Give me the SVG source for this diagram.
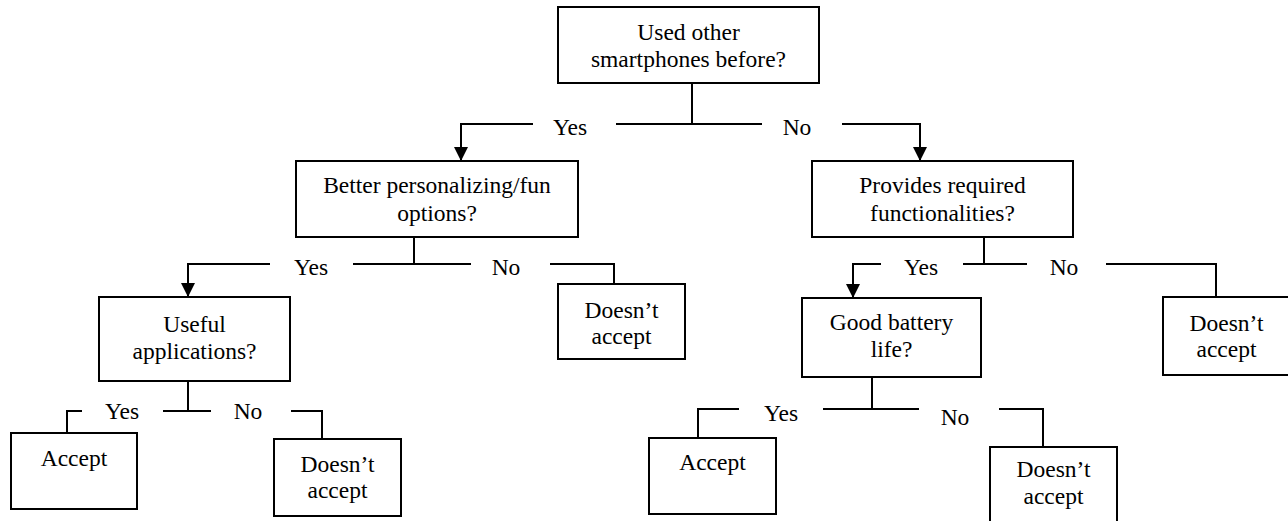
<svg xmlns="http://www.w3.org/2000/svg" width="1288" height="521" viewBox="0 0 1288 521">
  <style>
    .box { fill: #ffffff; stroke: #000000; stroke-width: 2; }
    .wire { fill: none; stroke: #000000; stroke-width: 2; }
    .arrow { marker-end: url(#arrow); }
    text { font-family: "Liberation Serif", "Times New Roman", serif; font-size: 23.5px; fill: #000000; text-anchor: middle; }
  </style>
  <defs>
    <!-- filled triangle, tip at the end of the path -->
    <marker id="arrow" viewBox="0 0 14 14" refX="14" refY="7" markerWidth="14" markerHeight="14" markerUnits="userSpaceOnUse" orient="auto">
      <path d="M0,0 L14,7 L0,14 Z" fill="#000000"/>
    </marker>
  </defs>
  <rect width="1288" height="521" fill="#ffffff"/>

  <g id="connectors">
    <!-- from the root question -->
    <path class="wire" d="M692,83 V124 M616,124 H762"/>
    <path class="wire arrow" d="M533,124 H461 V161"/>
    <path class="wire arrow" d="M842,124 H920 V161"/>
    <!-- from the personalizing question -->
    <path class="wire" d="M414,237 V264 M353,264 H471"/>
    <path class="wire arrow" d="M270,264 H188 V297"/>
    <path class="wire" d="M550,264 H614 V284"/>
    <!-- from the functionality question -->
    <path class="wire" d="M984,237 V264 M963,264 H1027"/>
    <path class="wire arrow" d="M881,264 H853 V298"/>
    <path class="wire" d="M1106,264 H1216 V297"/>
    <!-- from the applications question -->
    <path class="wire" d="M188,381 V411 M163,411 H211"/>
    <path class="wire" d="M82,411 H67 V433"/>
    <path class="wire" d="M291,411 H322 V439"/>
    <!-- from the battery question -->
    <path class="wire" d="M872,377 V409 M823,409 H919"/>
    <path class="wire" d="M739,409 H698 V438"/>
    <path class="wire" d="M999,409 H1043 V447"/>
    <!-- branch labels -->
    <text x="570" y="135">Yes</text>
    <text x="797" y="135">No</text>
    <text x="311" y="275">Yes</text>
    <text x="506" y="275">No</text>
    <text x="921" y="275">Yes</text>
    <text x="1064" y="275">No</text>
    <text x="122" y="419">Yes</text>
    <text x="248" y="419">No</text>
    <text x="781" y="421">Yes</text>
    <text x="955" y="425">No</text>
  </g>

  <g id="q-smartphones">
    <rect class="box" x="558" y="7" width="261" height="76"/>
    <text x="688.5" y="40">Used other</text>
    <text x="688.5" y="67">smartphones before?</text>
  </g>

  <g id="q-personalizing">
    <rect class="box" x="296" y="161" width="282" height="76"/>
    <text x="437" y="193">Better personalizing/fun</text>
    <text x="437" y="221">options?</text>
  </g>

  <g id="q-functionalities">
    <rect class="box" x="812" y="161" width="261" height="76"/>
    <text x="942.5" y="193">Provides required</text>
    <text x="942.5" y="221">functionalities?</text>
  </g>

  <g id="q-applications">
    <rect class="box" x="99" y="297" width="191" height="84"/>
    <text x="194.5" y="332">Useful</text>
    <text x="194.5" y="359">applications?</text>
  </g>

  <g id="r-reject-fun">
    <rect class="box" x="558" y="284" width="127" height="75"/>
    <text x="621.5" y="318">Doesn’t</text>
    <text x="621.5" y="344">accept</text>
  </g>

  <g id="q-battery">
    <rect class="box" x="802" y="298" width="179" height="79"/>
    <text x="891.5" y="330">Good battery</text>
    <text x="891.5" y="357">life?</text>
  </g>

  <g id="r-reject-functions">
    <rect class="box" x="1163" y="297" width="127" height="78"/>
    <text x="1226.5" y="331">Doesn’t</text>
    <text x="1226.5" y="357">accept</text>
  </g>

  <g id="r-accept-apps">
    <rect class="box" x="11" y="433" width="126" height="76"/>
    <text x="74" y="466">Accept</text>
  </g>

  <g id="r-reject-apps">
    <rect class="box" x="274" y="439" width="127" height="77"/>
    <text x="337.5" y="472">Doesn’t</text>
    <text x="337.5" y="498">accept</text>
  </g>

  <g id="r-accept-battery">
    <rect class="box" x="649" y="438" width="127" height="76"/>
    <text x="712.5" y="470">Accept</text>
  </g>

  <g id="r-reject-battery">
    <rect class="box" x="990" y="447" width="127" height="78"/>
    <text x="1053.5" y="477">Doesn’t</text>
    <text x="1053.5" y="504">accept</text>
  </g>
</svg>
